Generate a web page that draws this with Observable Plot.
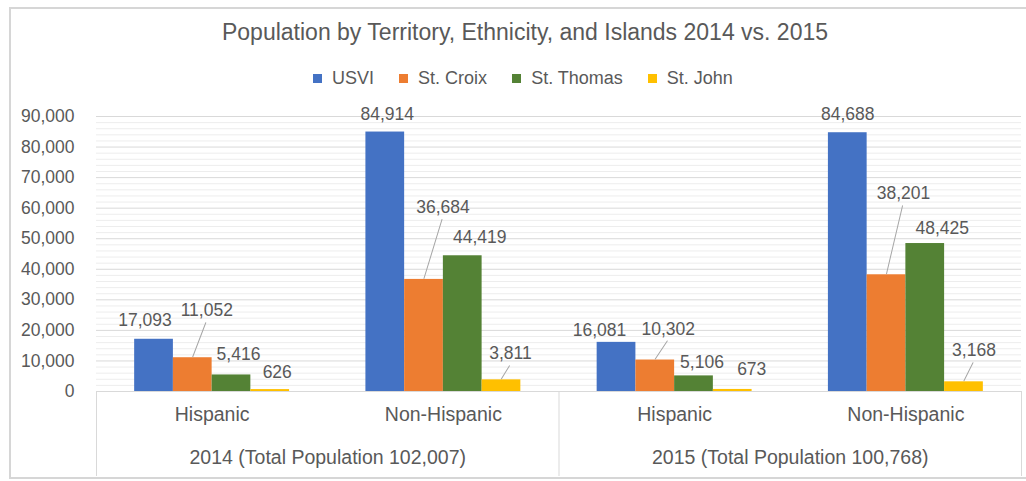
<!DOCTYPE html>
<html>
<head>
<meta charset="utf-8">
<script src="https://cdn.jsdelivr.net/npm/d3@7"></script>
<script src="https://cdn.jsdelivr.net/npm/@observablehq/plot@0.6"></script>
<style>
html, body { margin: 0; padding: 0; background: #fff; }
#wrap { position: relative; width: 1026px; height: 481px; overflow: hidden;
  font-family: "Liberation Sans", Arial, sans-serif; color: #595959; }
#border { position: absolute; left: 9px; top: 7px; width: 1040px; height: 468px;
  border: 2px solid #d6d6d6; box-sizing: border-box; height: 472px; }
#title { position: absolute; left: 0; width: 1050px; top: 17px; text-align: center;
  font-size: 23px; line-height: 30px; white-space: nowrap; }
#legend { position: absolute; top: 66px; left: 0; width: 1046px; display: flex;
  justify-content: center; gap: 25px; font-size: 18px; line-height: 24px; }
.item { display: flex; align-items: center; gap: 10px; }
.sw { width: 9px; height: 9px; display: inline-block; }
#chart { position: absolute; left: 0; top: 90px; }
</style>
</head>
<body>
<div id="wrap">
  <div id="border"></div>
  <div id="title"></div>
  <div id="legend"></div>
  <div id="chart"></div>
</div>
<script>
// ---- data ----
const title = "Population by Territory, Ethnicity, and Islands 2014 vs. 2015";
const years = ["2014 (Total Population 102,007)", "2015 (Total Population 100,768)"];
const ethnicities = ["Hispanic", "Non-Hispanic", "Hispanic", "Non-Hispanic"];
const series = ["USVI", "St. Croix", "St. Thomas", "St. John"];
const usvi = [17093, 84914, 16081, 84688];
const stCroix = [11052, 36684, 10302, 38201];
const stThomas = [5416, 44419, 5106, 48425];
const stJohn = [626, 3811, 673, 3168];
const yTicks = [0, 10000, 20000, 30000, 40000, 50000, 60000, 70000, 80000, 90000];

// ---- style / layout ----
const colors = ["#4472C4", "#ED7D31", "#548235", "#FFC000"];
// label offset (px) from the top-centre of each bar, per category x series
const labelOffsets = [
  [[-9, -19], [14, -47], [7, -21], [7, -17]],
  [[2, -18], [19, -72], [17, -18], [9, -26]],
  [[-17, -12], [13, -31], [8, -14], [19, -20]],
  [[0, -18], [17, -81], [17, -15], [10, -31]]
];
const leaderLines = [
  [false, true, false, false],
  [false, true, false, true],
  [false, true, false, false],
  [false, true, false, true]
];
const PAD = 0.165, BW = 0.1675;

// ---- build ----
document.getElementById("title").textContent = title;
const legend = document.getElementById("legend");
series.forEach((s, j) => {
  const it = document.createElement("div"); it.className = "item";
  const sw = document.createElement("span"); sw.className = "sw"; sw.style.background = colors[j];
  const tx = document.createElement("span"); tx.textContent = s;
  it.append(sw, tx); legend.append(it);
});

const values = [usvi, stCroix, stThomas, stJohn];
const rows = [];
ethnicities.forEach((e, i) => series.forEach((s, j) => rows.push({i, j, series: s, value: values[j][i]})));
const center = d => d.i + PAD + (d.j + 0.5) * BW;
const fmt = d3.format(",");
const minorTicks = d3.range(0, 90001, 2000).filter(v => v % 10000 !== 0);
const lineShape = {draw(context, l) { context.moveTo(0, 0); context.lineTo(0, -l); }};

const labelMarks = rows.map(d => {
  const [dx, dy] = labelOffsets[d.i][d.j];
  return Plot.text([d], {x: center, y: "value", text: r => fmt(r.value), dx, dy,
    fontSize: 17.5, fill: "#595959"});
});
const leaderMarks = rows.filter(d => leaderLines[d.i][d.j]).map(d => {
  const [dx, dy] = labelOffsets[d.i][d.j];
  const ex = dx - 1, ey = dy + 13;
  return Plot.vector([d], {x: center, y: "value", anchor: "start", dy: -1,
    length: Math.hypot(ex, ey), rotate: Math.atan2(ex, -ey) * 180 / Math.PI,
    shape: lineShape, stroke: "#a6a6a6", strokeWidth: 1});
});

const chart = Plot.plot({
  width: 1026, height: 391,
  marginTop: 26, marginBottom: 90, marginLeft: 96, marginRight: 5,
  x: {domain: [0, 4], axis: null},
  y: {domain: [0, 90000], axis: null},
  color: {domain: series, range: colors},
  style: {fontFamily: "'Liberation Sans', Arial, sans-serif", fontSize: "17.5px", color: "#595959", background: "transparent", overflow: "visible"},
  marks: [
    Plot.gridY(minorTicks, {stroke: "#ededed", strokeOpacity: 1}),
    Plot.gridY(yTicks, {stroke: "#d9d9d9", strokeOpacity: 1}),
    Plot.axisY(yTicks, {tickSize: 0, tickPadding: 22, tickFormat: fmt, fontSize: 17.5, label: null}),
    Plot.ruleX([0, 2, 4], {insetTop: 275, insetBottom: -85, stroke: "#d9d9d9"}),
    Plot.ruleY([0], {stroke: "#d9d9d9"}),
    Plot.rectY(rows, {x1: d => d.i + PAD + d.j * BW, x2: d => d.i + PAD + (d.j + 1) * BW, y: "value", fill: "series"}),
    ...leaderMarks,
    ...labelMarks,
    Plot.text(ethnicities, {x: (d, i) => i + 0.5, text: d => d, frameAnchor: "bottom", dy: 29, fontSize: 19.5, fill: "#595959"}),
    Plot.text(years, {x: (d, i) => 2 * i + 1, text: d => d, frameAnchor: "bottom", dy: 72, fontSize: 19.5, fill: "#595959"})
  ]
});
document.getElementById("chart").append(chart);
</script>
</body>
</html>
